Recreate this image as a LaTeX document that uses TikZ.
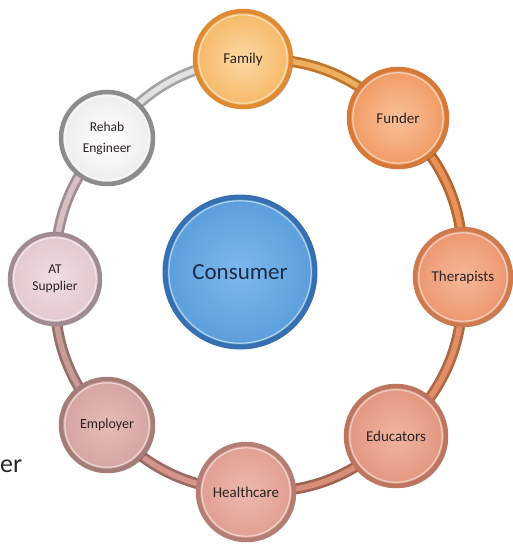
\documentclass[tikz,border=0pt]{standalone}
\usepackage{fontspec}
\setmainfont{Carlito}
\usetikzlibrary{shadows,backgrounds}
\definecolor{txt}{HTML}{2C2222}
\definecolor{famin}{HTML}{FCD9A4}\definecolor{famout}{HTML}{F6B866}\definecolor{famrim}{HTML}{E08A34}
\definecolor{funin}{HTML}{F9C09A}\definecolor{funout}{HTML}{F19A62}\definecolor{funrim}{HTML}{D67838}
\definecolor{thein}{HTML}{F6B898}\definecolor{theout}{HTML}{EC9670}\definecolor{therim}{HTML}{CD7A4E}
\definecolor{eduin}{HTML}{F0B4A0}\definecolor{eduout}{HTML}{E29680}\definecolor{edurim}{HTML}{BC7660}
\definecolor{heain}{HTML}{EEB8AE}\definecolor{heaout}{HTML}{E09E92}\definecolor{hearim}{HTML}{B47E74}
\definecolor{empin}{HTML}{E6BCB6}\definecolor{empout}{HTML}{D4A4A0}\definecolor{emprim}{HTML}{A47C78}
\definecolor{atsin}{HTML}{F0DEE0}\definecolor{atsout}{HTML}{E2C8CC}\definecolor{atsrim}{HTML}{A08C90}
\definecolor{rehin}{HTML}{FFFFFF}\definecolor{rehout}{HTML}{EDEDED}\definecolor{rehrim}{HTML}{8C8C8C}
\definecolor{conin}{HTML}{7DB8EC}\definecolor{conout}{HTML}{5A9EDC}\definecolor{conrim}{HTML}{3670B0}
\definecolor{contxt}{HTML}{1C2C44}
\begin{document}
\begin{tikzpicture}[x=1pt,y=-1pt,
  bub/.style={circle, inner sep=0pt, minimum size=94pt, line width=4.5pt, align=center,
    font=\fontsize{15}{16}\selectfont, text=txt,
    drop shadow={shadow xshift=2pt, shadow yshift=-2pt, opacity=0.35, fill=black},
    path picture={\draw[white, opacity=0.55, line width=1.2pt]
      (path picture bounding box.center) circle[radius=\pgfkeysvalueof{/pgf/minimum width}/2-3.8pt];}},
  bandouter/.style={line width=11pt, line cap=round},
  bandinner/.style={line width=5.5pt, line cap=round, opacity=0.85}
]
\useasboundingbox (0,0) rectangle (513,544);

\node[bub, minimum size=96pt, draw=famrim, inner color=famin, outer color=famout] (fam) at (243,59) {Family};
\node[bub, minimum size=98pt, draw=funrim, inner color=funin, outer color=funout] (fun) at (398,118) {Funder};
\node[bub, minimum size=96pt, draw=therim, inner color=thein, outer color=theout] (the) at (463,277) {Therapists};
\node[bub, minimum size=100pt, draw=edurim, inner color=eduin, outer color=eduout] (edu) at (396,436) {Educators};
\node[bub, minimum size=96pt, draw=hearim, inner color=heain, outer color=heaout] (hea) at (246,492) {Healthcare};
\node[bub, minimum size=92pt, draw=emprim, inner color=empin, outer color=empout, font=\fontsize{14}{16}\selectfont] (emp) at (107,425) {Employer};
\node[bub, minimum size=90pt, draw=atsrim, inner color=atsin, outer color=atsout, font=\fontsize{13.5}{17}\selectfont] (ats) at (55,279) {AT\\Supplier};
\node[bub, minimum size=92pt, draw=rehrim, inner color=rehin, outer color=rehout, font=\fontsize{13.5}{21}\selectfont] (reh) at (107,138) {Rehab\\Engineer};
\node[bub, minimum size=150pt, line width=5pt, draw=conrim, inner color=conin, outer color=conout,
  text=contxt, font=\fontsize{23}{24}\selectfont] (con) at (240,272) {Consumer};

\node[anchor=base west, inner sep=0pt, text=black!85, font=\fontsize{26}{28}\selectfont] (frag) at (0,472) {er};

\begin{pgfonlayer}{background}
  \draw[bandouter, color=famrim!85!black] (fam.center) to[bend left=23] (fun.center);
  \draw[bandinner, color=famout] (fam.center) to[bend left=23] (fun.center);
  \draw[bandouter, color=funrim!85!black] (fun.center) to[bend left=24] (the.center);
  \draw[bandinner, color=funout] (fun.center) to[bend left=24] (the.center);
  \draw[bandouter, color=therim!85!black] (the.center) to[bend left=24] (edu.center);
  \draw[bandinner, color=theout] (the.center) to[bend left=24] (edu.center);
  \draw[bandouter, color=edurim!85!black] (edu.center) to[bend left=22] (hea.center);
  \draw[bandinner, color=eduout] (edu.center) to[bend left=22] (hea.center);
  \draw[bandouter, color=hearim!85!black] (hea.center) to[bend left=21] (emp.center);
  \draw[bandinner, color=heaout] (hea.center) to[bend left=21] (emp.center);
  \draw[bandouter, color=emprim!90!black] (emp.center) to[bend left=22] (ats.center);
  \draw[bandinner, color=empout] (emp.center) to[bend left=22] (ats.center);
  \draw[bandouter, color=atsrim] (ats.center) to[bend left=21] (reh.center);
  \draw[bandinner, color=atsout] (ats.center) to[bend left=21] (reh.center);
  \draw[bandouter, color=rehrim!80] (reh.center) to[bend left=22] (fam.center);
  \draw[bandinner, color=rehout] (reh.center) to[bend left=22] (fam.center);
\end{pgfonlayer}
\end{tikzpicture}
\end{document}
